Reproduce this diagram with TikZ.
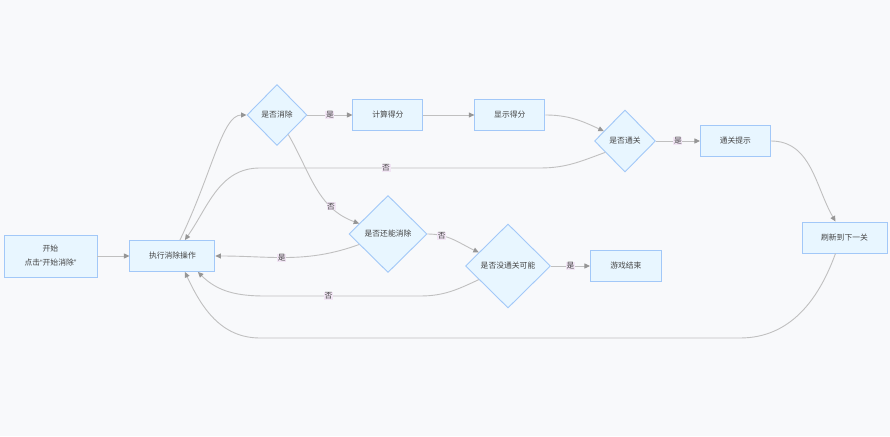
\documentclass[tikz,border=0pt]{standalone}
\usepackage{fontspec}
\setmainfont{Noto Sans CJK SC}
\newfontfamily\quotefont{Liberation Sans}
\usetikzlibrary{positioning, arrows.meta, shapes.geometric}
\definecolor{paper}{RGB}{248, 249, 251}
\definecolor{soft}{RGB}{232, 246, 255}
\definecolor{steel}{RGB}{162, 200, 248}
\definecolor{wire}{RGB}{192, 192, 192}
\definecolor{tipgray}{RGB}{150, 150, 150}
\definecolor{tagbg}{RGB}{242, 230, 245}
\definecolor{ink}{RGB}{68, 68, 68}

\begin{document}
\begin{tikzpicture}[x=1pt, y=1pt,
    box/.style={draw=steel, fill=soft, text=ink, line width=0.9pt, minimum width=70pt, minimum height=31pt, inner sep=1pt, font=\fontsize{7.8}{14}\selectfont},
    choice/.style={diamond, draw=steel, fill=soft, text=ink, line width=0.9pt, inner sep=1pt, font=\fontsize{7.8}{10}\selectfont},
    flow/.style={draw=wire, line width=0.9pt, -{Triangle[length=5.5pt, width=5pt, color=tipgray]}},
    tag/.style={fill=tagbg, text=ink, inner sep=0.6pt, font=\fontsize{7.8}{10}\selectfont}]
        \fill[paper] (0,0) rectangle (890,436);

        % 节点
        \node[box, minimum width=93pt, minimum height=42pt, align=center] (start) at (50.5,180) {开始\\点击{\quotefont “}开始消除{\quotefont ”}};
        \node[box, minimum width=85pt, right=32pt of start] (exec) {执行消除操作};
        \node[choice, minimum width=60pt, minimum height=61pt] (d1) at (277,321) {是否消除};
        \node[box, right=45pt of d1] (score) {计算得分};
        \node[box, right=51pt of score] (show) {显示得分};
        \node[choice, minimum width=61pt, minimum height=62pt] (d2) at (625,295) {是否通关};
        \node[box, right=44pt of d2] (pass) {通关提示};
        \node[box, minimum width=85pt] (next) at (844.5,198.5) {刷新到下一关};
        \node[choice, minimum width=78pt, minimum height=77pt] (d3) at (388,202) {是否还能消除};
        \node[choice, minimum width=85pt, minimum height=84pt] (d4) at (508,170) {是否没通关可能};
        \node[box, minimum width=71pt, right=39pt of d4] (end) {游戏结束};

        % 连线
        \draw[flow] (start) -- (exec);
        \draw[flow] ([xshift=7.5pt]exec.north) .. controls (212,262) and (222,321) .. (d1.west);
        \draw[flow] (d1) -- node[tag] {是} (score);
        \draw[flow] (score) -- (show);
        \draw[flow] (show.east) to[out=0, in=155] (d2.155);
        \draw[flow] (d2) -- node[tag] {是} (pass);
        \draw[flow] (pass.east) to[out=0, in=120] ([xshift=-9pt]next.north);
        \draw[flow] (d2.210) to[out=200, in=0] (540,268) -- node[tag, pos=0.55] {否} (260,268) to[out=180, in=55] ([xshift=12.5pt]exec.north);
        \draw[flow] (d1.300) to[out=-60, in=160] node[tag, pos=0.72] {否} (d3.160);
        \draw[flow] (d3.200) to[out=200, in=0] node[tag, pos=0.55] {是} (exec.east);
        \draw[flow] (d3.east) to[out=0, in=155] node[tag, pos=0.25] {否} (d4.155);
        \draw[flow] (d4) -- node[tag] {是} (end);
        \draw[flow] (d4.205) to[out=205, in=0] (420,140) -- node[tag, pos=0.59] {否} (265,140) to[out=180, in=-45] ([xshift=25.5pt]exec.south);
        \draw[flow] ([xshift=-9pt]next.south) to[out=-110, in=0] (740,98) -- (260,98) to[out=180, in=-65] ([xshift=12.5pt]exec.south);
    \end{tikzpicture}
\end{document}
